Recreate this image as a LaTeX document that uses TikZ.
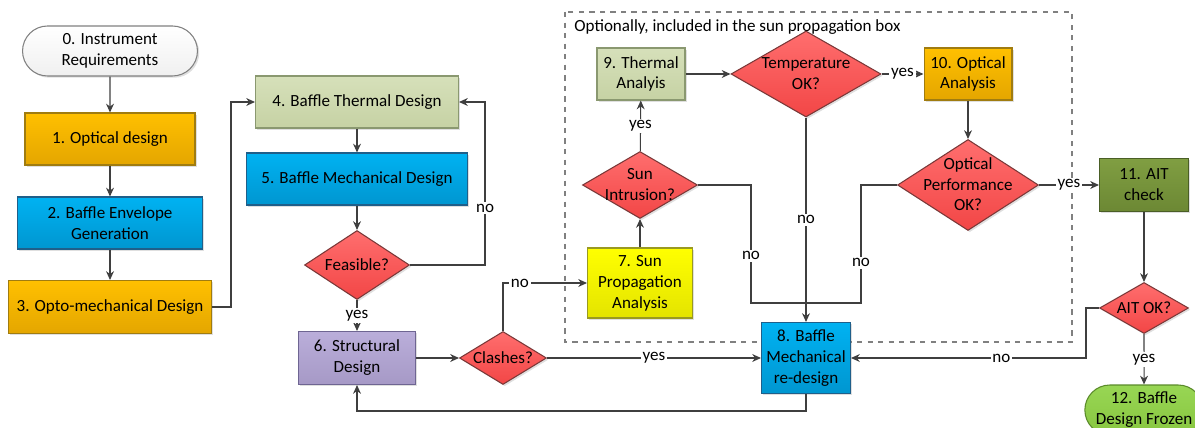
\documentclass[tikz,border=0pt]{standalone}
\usepackage{fontspec}
\setmainfont{Carlito}
\usetikzlibrary{shapes.geometric,shapes.misc,arrows.meta,shadows}

\definecolor{lineg}{HTML}{3F3F3F}
\definecolor{orgT}{HTML}{FFC000}\definecolor{orgB}{HTML}{E4A600}\definecolor{orgL}{HTML}{A07C10}
\definecolor{bluT}{HTML}{00B2F2}\definecolor{bluB}{HTML}{0096D0}\definecolor{bluL}{HTML}{1F5F8A}
\definecolor{sagT}{HTML}{D6E0BA}\definecolor{sagB}{HTML}{C6D2A4}\definecolor{sagL}{HTML}{8A9870}
\definecolor{purT}{HTML}{BAAEDA}\definecolor{purB}{HTML}{A699C6}\definecolor{purL}{HTML}{6E6592}
\definecolor{yelT}{HTML}{FFFF00}\definecolor{yelB}{HTML}{E4E400}\definecolor{yelL}{HTML}{9A9A20}
\definecolor{redT}{HTML}{FF6E6E}\definecolor{redB}{HTML}{F24646}\definecolor{redL}{HTML}{7A3838}
\definecolor{olvT}{HTML}{809E42}\definecolor{olvB}{HTML}{6C8834}\definecolor{olvL}{HTML}{4A5E26}
\definecolor{limT}{HTML}{98D654}\definecolor{limB}{HTML}{88C640}\definecolor{limL}{HTML}{5A8A2A}

\newcommand{\dtxt}[1]{\smash{\raisebox{-3pt}{\makebox[0pt]{\begin{tabular}{@{}c@{}}#1\end{tabular}}}}}

\tikzset{
  txt/.style={font=\fontsize{9.7}{11.9}\selectfont},
  blk/.style={txt,draw,rectangle,align=center,inner sep=2pt,line width=0.6pt,
    drop shadow={opacity=0.25,shadow xshift=1pt,shadow yshift=-1pt}},
  orgbox/.style={blk,draw=orgL,top color=orgT,bottom color=orgB},
  blubox/.style={blk,draw=bluL,top color=bluT,bottom color=bluB},
  sagbox/.style={blk,draw=sagL,top color=sagT,bottom color=sagB},
  purbox/.style={blk,draw=purL,top color=purT,bottom color=purB},
  yelbox/.style={blk,draw=yelL,top color=yelT,bottom color=yelB},
  olvbox/.style={blk,draw=olvL,top color=olvT,bottom color=olvB},
  term/.style={blk,rounded rectangle},
  decide/.style={blk,diamond,inner sep=0pt,draw=redL,top color=redT,bottom color=redB},
  arr/.style={draw=lineg,line width=0.6pt,-{Stealth[length=5pt,width=4.5pt]}},
  wire/.style={draw=lineg,line width=0.6pt},
  lbl/.style={txt,fill=white,inner sep=1pt}
}

\begin{document}
\begin{tikzpicture}[x=0.02cm,y=-0.02cm]
\pgfmathsetmacro{\xa}{110}
\pgfmathsetmacro{\xb}{357}
\pgfmathsetmacro{\xc}{503}
\pgfmathsetmacro{\xd}{640}
\pgfmathsetmacro{\xe}{806}
\pgfmathsetmacro{\xf}{968}
\pgfmathsetmacro{\xg}{1144}
\useasboundingbox (0,0) rectangle (1195,428);

  \draw[draw=gray,dashed,line width=0.6pt] (565,12) rectangle (1072,342);
  \node[txt,anchor=west,inner sep=0pt] (boxtitle) at (574,27) {Optionally, included in the sun propagation box};

  \node[term,draw=gray,top color=white,bottom color=black!6,minimum width=3.64cm,minimum height=1cm] (req) at (\xa,51) {0. Instrument\\Requirements};
  \node[orgbox,minimum width=3.4cm,minimum height=1.04cm] (opt) at (\xa,139) {1. Optical design};
  \node[blubox,minimum width=3.7cm,minimum height=1.04cm] (env) at (\xa,223) {2. Baffle Envelope\\Generation};
  \node[orgbox,minimum width=4.06cm,minimum height=1.06cm] (optomech) at (\xa,307) {3. Opto-mechanical Design};

  \node[sagbox,minimum width=4.06cm,minimum height=1.04cm] (thermdes) at (\xb,102) {4. Baffle Thermal Design};
  \node[blubox,minimum width=4.42cm,minimum height=1.04cm] (mechdes) at (\xb,179) {5. Baffle Mechanical Design};
  \node[decide,minimum width=2.1cm,minimum height=1.38cm] (feas) at (\xb,265) {\dtxt{Feasible?}};
  \node[purbox,minimum width=2.34cm,minimum height=1.06cm] (struct) at (\xb,358) {6. Structural\\Design};
  \node[decide,minimum width=1.74cm,minimum height=1.06cm] (clash) at (\xc,358) {\dtxt{Clashes?}};

  \node[yelbox,minimum width=2.1cm,minimum height=1.4cm] (sunprop) at (\xd,283) {7. Sun\\Propagation\\Analysis};
  \node[decide,minimum width=2.3cm,minimum height=1.34cm] (intr) at (\xd,185) {\dtxt{Sun\\Intrusion?}};
  \node[sagbox,minimum width=1.76cm,minimum height=1.04cm] (thermana) at (641,74) {9. Thermal\\Analyis};
  \node[decide,minimum width=3cm,minimum height=1.72cm] (temp) at (\xe,74) {\dtxt{Temperature\\OK?}};
  \node[blubox,minimum width=1.78cm,minimum height=1.42cm] (redes) at (\xe,358) {8. Baffle\\Mechanical\\re-design};
  \node[orgbox,minimum width=1.76cm,minimum height=1.04cm] (optana) at (\xf,74) {10. Optical\\Analysis};
  \node[decide,minimum width=2.82cm,minimum height=1.82cm] (perf) at (\xf,185) {\dtxt{Optical\\Performance\\OK?}};

  \node[olvbox,minimum width=1.78cm,minimum height=1.06cm] (ait) at (\xg,185) {11. AIT\\check};
  \node[decide,minimum width=1.78cm,minimum height=1.02cm] (aitok) at (\xg,308) {\dtxt{AIT OK?}};
  \node[term,draw=limL,top color=limT,bottom color=limB,minimum width=2.36cm,minimum height=1cm] (frozen) at (\xg,410) {12. Baffle\\Design Frozen};

  \coordinate (join) at (\xe,303);

  \draw[arr] (req) -- (opt);
  \draw[arr] (opt) -- (env);
  \draw[arr] (env) -- (optomech);
  \draw[arr] (optomech.east) -- ++(19,0) |- (thermdes.west);
  \draw[arr] (thermdes) -- (mechdes);
  \draw[arr] (mechdes) -- (feas);
  \draw[arr] (feas.east) -- ++(75,0) |- (thermdes.east) node[lbl,pos=0.175] {no};
  \draw[arr] (feas) -- (struct) node[lbl,midway] {yes};
  \draw[arr] (struct) -- (clash);
  \draw[arr] (clash.north) |- (sunprop.west) node[lbl,pos=0.6] {no};
  \draw[arr] (clash) -- (redes) node[lbl,midway] {yes};
  \draw[arr] (redes.south) -- ++(0,17) -| (struct.south);
  \draw[arr] (sunprop) -- (intr);
  \draw[arr] (intr) -- (thermana) node[lbl,midway] {yes};
  \draw[arr] (thermana) -- (temp);
  \draw[arr] (temp) -- (redes) node[lbl,midway] {no};
  \draw[arr] (temp) -- (optana) node[lbl,midway] {yes};
  \draw[wire] (intr.east) -| (751,303) node[lbl,pos=0.8] {no} -- (join);
  \draw[arr] (optana) -- (perf);
  \draw[wire] (perf.west) -| (861,303) node[lbl,pos=0.83] {no} -- (join);
  \draw[arr] (perf) -- (ait) node[lbl,midway] {yes};
  \draw[arr] (ait) -- (aitok);
  \draw[arr] (aitok) -- (frozen) node[lbl,midway] {yes};
  \draw[arr] (aitok.west) -- ++(-13,0) |- (redes.east) node[lbl,pos=0.68] {no};
\end{tikzpicture}
\end{document}
